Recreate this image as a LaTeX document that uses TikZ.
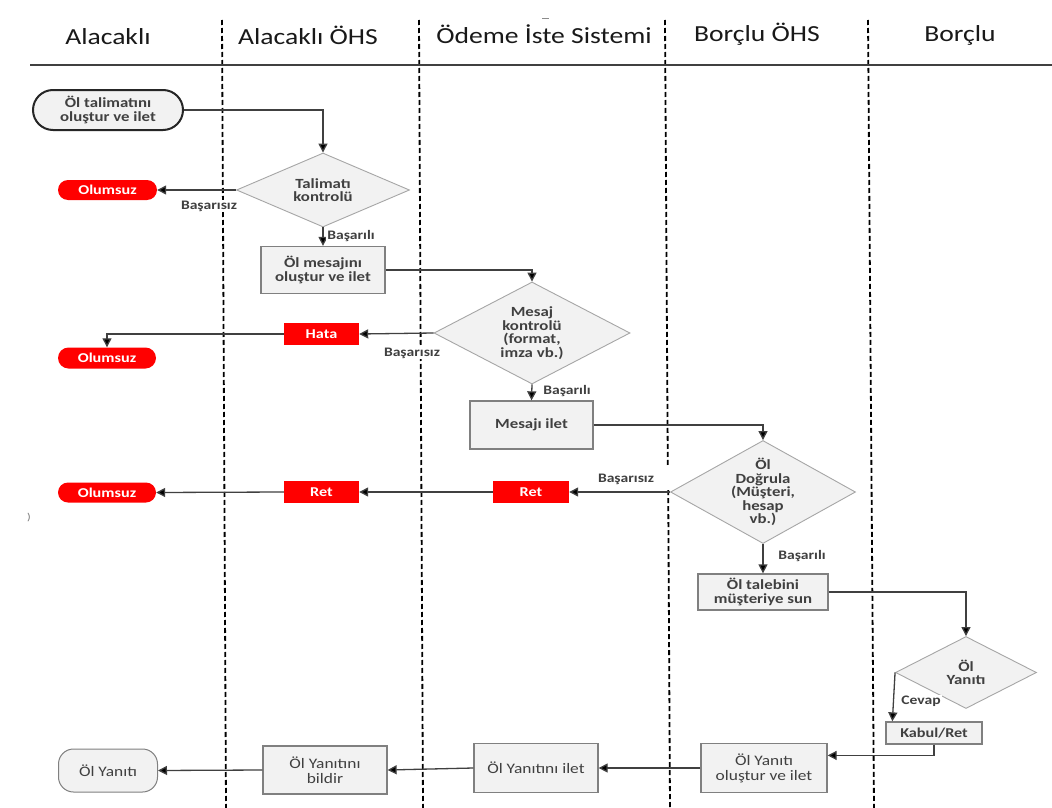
\documentclass[tikz,border=0pt]{standalone}
\usepackage{fontspec}
\setmainfont[FakeStretch=1.2]{Carlito}
\usetikzlibrary{shapes.geometric,shapes.misc,arrows.meta,calc}
\definecolor{boxfill}{HTML}{F2F2F2}
\definecolor{boxline}{HTML}{808080}
\definecolor{dialine}{HTML}{A6A6A6}
\definecolor{txt}{HTML}{404040}
\definecolor{linec}{HTML}{404040}
\definecolor{redf}{HTML}{FF0000}
\begin{document}
\begin{tikzpicture}[x=1pt,y=-1pt,
  hdr/.style={font=\fontsize{23}{26}\selectfont, text=black!90, anchor=base},
  boxtxt/.style={font=\bfseries\fontsize{14}{13.5}\selectfont, text=txt, align=center},
  box/.style={boxtxt, rectangle, draw=boxline, line width=1.3pt, fill=boxfill, inner sep=0pt},
  lbox/.style={box, font=\fontsize{14.5}{15}\selectfont},
  dia/.style={boxtxt, diamond, draw=dialine, line width=0.9pt, fill=boxfill, inner sep=0pt},
  term/.style={boxtxt, rounded rectangle, draw=black!85, line width=2pt, fill=boxfill, inner sep=0pt},
  endterm/.style={rectangle, rounded corners=15pt, draw=boxline, line width=1pt, fill=boxfill, inner sep=0pt, font=\fontsize{14.5}{15}\selectfont, text=txt},
  redbox/.style={rectangle, fill=redf, text=white, font=\bfseries\fontsize{13.5}{14}\selectfont, inner sep=0pt},
  redterm/.style={rounded rectangle, fill=redf, text=white, font=\bfseries\fontsize{13.5}{14}\selectfont, inner sep=0pt},
  conn/.style={draw=linec, line width=1.3pt, -{Triangle[length=9pt,width=9pt,fill=black]}},
  lab/.style={font=\bfseries\fontsize{13}{14}\selectfont, text=txt, fill=white, inner sep=1pt},
  divider/.style={draw=black, line width=1.8pt, dash pattern=on 5pt off 3pt}
]
\useasboundingbox (0,0) rectangle (1052,808);
\fill[white] (0,0) rectangle (1052,808);

% lane dividers and header line
\draw[divider] (222,20) -- (226,808);
\draw[divider] (419,20) -- (423,808);
\draw[divider] (665,20) -- (667.8,465);
\draw[divider] (668.2,490) -- (670,808);
\draw[divider] (868,20) -- (874,808);
\draw[draw=linec, line width=2.2pt] (30,65) -- (1052,65);
\draw[black!45, line width=1pt] (542,19) -- (549,19);

% headers
\node[hdr] (h1) at (108,45) {Alacaklı};
\node[hdr] (h2) at (308,45) {Alacaklı ÖHS};
\node[hdr] (h3) at (544,44) {Ödeme İste Sistemi};
\node[hdr] (h4) at (757,42) {Borçlu ÖHS};
\node[hdr] (h5) at (960,42) {Borçlu};

% nodes
\node[term, minimum width=150pt, minimum height=40pt] (start) at (108,110) {Öl talimatını\\oluştur ve ilet};
\node[dia, aspect=2.34, minimum width=173pt, minimum height=74pt] (d1) at (323,190) {Talimatı\\kontrolü};
\node[redterm, minimum width=99pt, minimum height=20pt] (olum1) at (107.5,190) {Olumsuz};
\node[box, minimum width=124pt, minimum height=47pt] (b1) at (323,270) {Öl mesajını\\oluştur ve ilet};
\node[dia, aspect=1.92, minimum width=196pt, minimum height=102pt] (d2) at (532,333) {Mesaj\\kontrolü\\(format,\\imza vb.)};
\node[redbox, minimum width=75pt, minimum height=22pt] (hata) at (321.5,334) {Hata};
\node[redterm, minimum width=98pt, minimum height=21pt] (olum2) at (107,358) {Olumsuz};
\node[box, minimum width=123pt, minimum height=48pt] (b2) at (531.5,425) {Mesajı ilet};
\node[dia, aspect=1.8, inner sep=-6pt, minimum width=185pt, minimum height=103pt] (d3) at (763,492) {Öl\\Doğrula\\(Müşteri,\\hesap\\vb.)};
\node[redbox, minimum width=76pt, minimum height=22pt] (ret2) at (531,492) {Ret};
\node[redbox, minimum width=75pt, minimum height=22pt] (ret1) at (321.5,492) {Ret};
\node[redterm, minimum width=98pt, minimum height=20pt] (olum3) at (107,492.5) {Olumsuz};
\node[box, minimum width=130pt, minimum height=36pt] (b3) at (763,592) {Öl talebini\\müşteriye sun};
\node[dia, aspect=1.96, minimum width=141pt, minimum height=72pt] (d4) at (966,672.5) {Öl\\Yanıtı};
\node[box, font=\bfseries\fontsize{13.5}{14}\selectfont, minimum width=96pt, minimum height=22pt] (kabul) at (934,733) {Kabul/Ret};
\node[lbox, minimum width=126pt, minimum height=49pt] (b4) at (764,768) {Öl Yanıtı\\oluştur ve ilet};
\node[lbox, minimum width=124pt, minimum height=49pt] (b5) at (536,768) {Öl Yanıtını ilet};
\node[lbox, minimum width=124pt, minimum height=48pt] (b6) at (325,770) {Öl Yanıtını\\bildir};
\node[endterm, minimum width=99pt, minimum height=43pt] (end) at (108,770.5) {Öl Yanıtı};
\node[font=\fontsize{10}{10}\selectfont, text=black!55] (paren) at (29,518) {)};

% connectors
\draw[conn] (start.east) -| (d1.north);
\draw[conn] (d1.west) -- (olum1.east);
\node[lab] (l1) at (209,206) {Başarısız};
\draw[conn] (d1.south) -- (b1.north);
\node[lab] (l2) at (351,236) {Başarılı};
\draw[conn] (b1.east) -| (d2.north);
\draw[conn] (d2.west) -- (hata.east);
\node[lab] (l3) at (412,353) {Başarısız};
\draw[conn] (hata.west) -| (olum2.north);
\draw[conn] (d2.south) -- (b2.north);
\node[lab] (l4) at (567,391) {Başarılı};
\draw[conn] (b2.east) -| (d3.north);
\draw[conn] (d3.west) -- (ret2.east);
\node[lab] (l5) at (626,479) {Başarısız};
\draw[conn] (ret2.west) -- (ret1.east);
\draw[conn] (ret1.west) -- (olum3.east);
\draw[conn] (d3.south) -- (b3.north);
\node[lab] (l6) at (802,556) {Başarılı};
\draw[conn] (b3.east) -| (d4.north);
\coordinate (kin) at ($(kabul.north west)+(7,0)$);
\draw[conn] (d4.west) -- (kin);
\node[lab] (l7) at (921,701) {Cevap};
\coordinate (b4in) at ($(b4.north east)!0.25!(b4.south east)$);
\draw[conn] (kabul.south) |- (b4in);
\draw[conn] (b4.west) -- (b5.east);
\draw[conn] (b5.west) -- (b6.east);
\draw[conn] (b6.west) -- (end.east);
\end{tikzpicture}
\end{document}
